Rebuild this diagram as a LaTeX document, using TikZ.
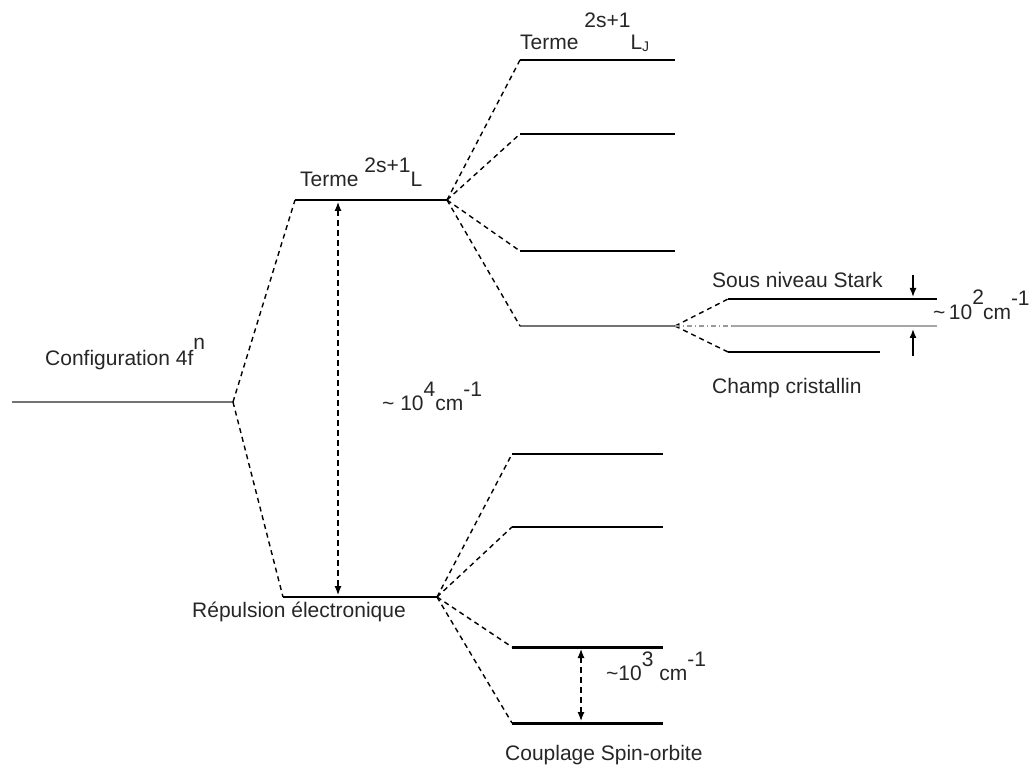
\documentclass[tikz,border=0pt]{standalone}
\usepackage{fontspec}
\setmainfont{Liberation Sans}
\usetikzlibrary{positioning,arrows.meta}
\newcommand{\hoch}[2][14pt]{\raisebox{#1}{#2}}

\begin{document}
\begin{tikzpicture}[x=1pt, y=-1pt,
            lvl/.style={line width=2pt},
            thinlvl/.style={line width=1pt, black!55},
            heavylvl/.style={line width=3pt},
            split/.style={dash pattern=on 5pt off 4pt, line width=1.4pt},
            gap/.style={dash pattern=on 6pt off 4pt, line width=1.2pt, {Latex[length=9pt,width=7pt]}-{Latex[length=9pt,width=7pt]}},
            push/.style={line width=1.5pt, -{Latex[length=9pt,width=7pt]}},
            lbl/.style={font=\fontsize{21}{25}\selectfont, inner sep=0pt, anchor=base west, text=black!85}
        ]
        \useasboundingbox (0,0) rectangle (1034,767);

        % Configuration level
        \coordinate (C0) at (12,402);
        \coordinate (C1) at (233,402);

        % Term levels
        \coordinate (TaL) at (295,200);
        \coordinate (TaR) at (447,200);
        \coordinate (TbL) at (283,597);
        \coordinate (TbR) at (437,597);

        % J levels (upper and lower term)
        \foreach \y [count=\n] in {60,134,251,326} {
            \coordinate (Ua\n) at (520,\y);
            \coordinate (Ub\n) at (675,\y);
        }
        \foreach \y [count=\n] in {454,527,647,723} {
            \coordinate (La\n) at (512,\y);
            \coordinate (Lb\n) at (663,\y);
        }

        % Stark sublevels
        \coordinate (S1L) at (728,299);  \coordinate (S1R) at (937,299);
        \coordinate (S2L) at (732,326);  \coordinate (S2R) at (937,326);
        \coordinate (S3L) at (728,352);  \coordinate (S3R) at (880,352);

        % levels
        \draw[thinlvl] (C0) -- (C1);
        \draw[lvl] (TaL) -- (TaR);
        \draw[lvl] (TbL) -- (TbR);
        \foreach \n in {1,2,3} \draw[line width=1.6pt] (Ua\n) -- (Ub\n);
        \draw[line width=1.6pt, black!55] (Ua4) -- (Ub4);
        \foreach \n in {1,2} \draw[line width=1.6pt] (La\n) -- (Lb\n);
        \foreach \n in {3,4} \draw[heavylvl] (La\n) -- (Lb\n);
        \draw[lvl] (S1L) -- (S1R);
        \draw[lvl, black!35] (S2L) -- (S2R);
        \draw[lvl] (S3L) -- (S3R);

        % splitting connectors
        \draw[split] (C1) -- (TaL);
        \draw[split] (C1) -- (TbL);
        \foreach \n in {1,...,4} \draw[split] (TaR) -- (Ua\n);
        \foreach \n in {1,...,4} \draw[split] (TbR) -- (La\n);
        \draw[split] (Ub4) -- (S1L);
        \draw[split] (Ub4) -- (S3L);
        \draw[split, black!40, dash pattern=on 5pt off 3pt on 1pt off 3pt] (Ub4) -- (S2L);

        % energy gaps
        \coordinate (G1) at (338,202);
        \coordinate (G2) at (338,595);
        \draw[gap] (G1) -- (G2);
        \coordinate (H1) at (581,649);
        \coordinate (H2) at (581,721);
        \draw[gap] (H1) -- (H2);
        \coordinate (K1) at (913,275);
        \coordinate (K2) at (913,297);
        \coordinate (K3) at (913,356);
        \coordinate (K4) at (913,329);
        \draw[push] (K1) -- (K2);
        \draw[push] (K3) -- (K4);

        % labels
        \node[lbl] (cfg)   at (45,366)  {Configuration 4f\hoch[16pt]{n}};
        \node[lbl] (termL) at (300,187) {Terme \hoch{2s+1}L};
        \node[lbl] (termJ) at (520,50)  {Terme \hoch[22pt]{2s+1}L\raisebox{-2pt}{\fontsize{14}{14}\selectfont J}};
        \node[lbl] (rep)   at (192,617) {Répulsion électronique};
        \node[lbl] (cpl)   at (505,760) {Couplage Spin-orbite};
        \node[lbl] (stark) at (712,288) {Sous niveau Stark};
        \node[lbl] (champ) at (712,393) {Champ cristallin};
        \node[lbl] (e4)    at (382,410) {\textasciitilde\ 10\hoch{4}cm\hoch{-1}};
        \node[lbl] (e3)    at (606,680) {\textasciitilde10\hoch{3} cm\hoch{-1}};
        \node[lbl] (e2)    at (933,320) {\textasciitilde\,10\hoch[15pt]{2}\hspace{-1pt}cm\hoch{-1}};
    \end{tikzpicture}
\end{document}
